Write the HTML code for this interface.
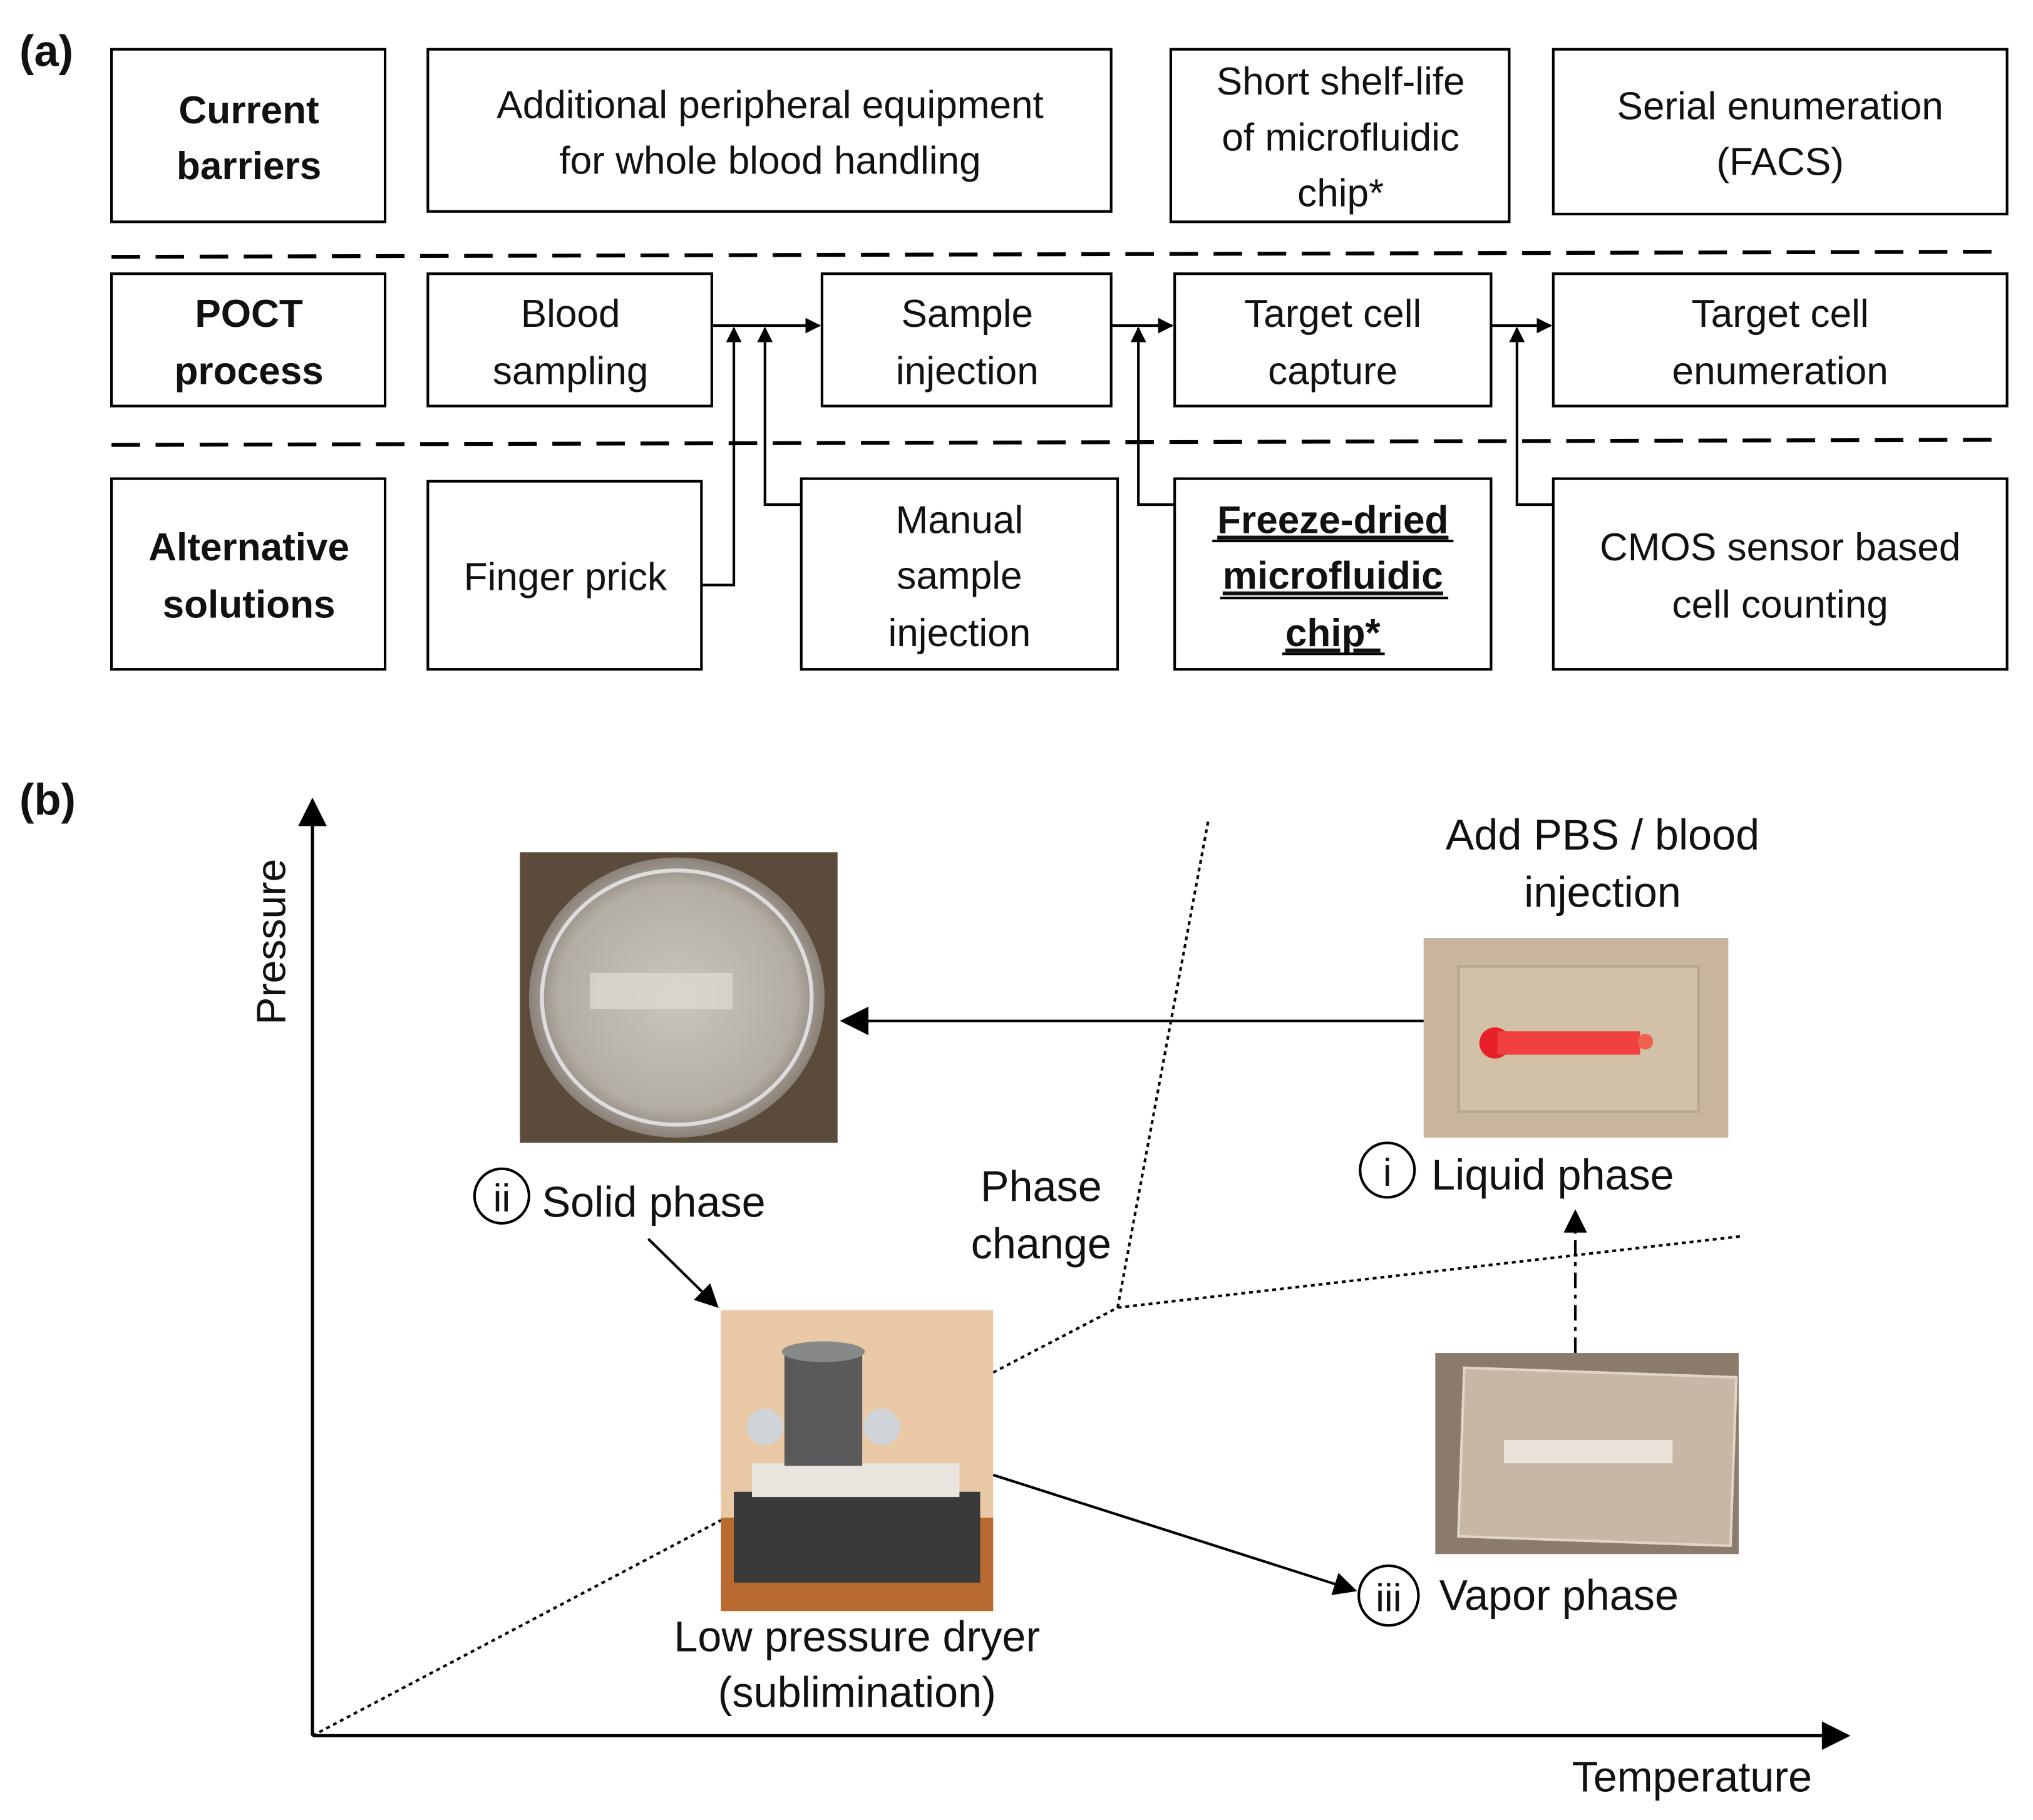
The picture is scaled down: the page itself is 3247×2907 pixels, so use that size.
<!DOCTYPE html>
<html><head><meta charset="utf-8"><style>
html,body{margin:0;padding:0;background:#fff;}
svg{display:block;}
text{font-family:"Liberation Sans",sans-serif;fill:#111;}
</style></head><body>
<svg width="3247" height="2907" viewBox="0 0 1568 1403" preserveAspectRatio="none" xmlns="http://www.w3.org/2000/svg">
<defs>
<marker id="ah" viewBox="0 0 10 10" refX="9" refY="5" markerWidth="12" markerHeight="12" orient="auto-start-reverse" markerUnits="userSpaceOnUse"><path d="M0,0 L10,5 L0,10 z" fill="#000"/></marker>
<marker id="ahb" viewBox="0 0 10 10" refX="9" refY="5" markerWidth="26" markerHeight="22" orient="auto" markerUnits="userSpaceOnUse"><path d="M0,0 L10,5 L0,10 z" fill="#000"/></marker>
<marker id="ahs" viewBox="0 0 10 10" refX="9" refY="5" markerWidth="18" markerHeight="18" orient="auto" markerUnits="userSpaceOnUse"><path d="M0,0 L10,5 L0,10 z" fill="#000"/></marker>
<radialGradient id="petri" cx="50%" cy="50%" r="50%"><stop offset="0" stop-color="#c9c6c0"/><stop offset="0.8" stop-color="#b3ada4"/><stop offset="1" stop-color="#8a8278"/></radialGradient>
</defs>
<text x="15" y="51" font-size="34" font-weight="bold">(a)</text>
<g fill="none" stroke="#000" stroke-width="2">
<rect x="86" y="38" width="211" height="133"/>
<rect x="330" y="38" width="527" height="125"/>
<rect x="903" y="38" width="261" height="133"/>
<rect x="1198" y="38" width="350" height="127"/>
<rect x="86" y="211" width="211" height="102"/>
<rect x="330" y="211" width="219" height="102"/>
<rect x="634" y="211" width="223" height="102"/>
<rect x="906" y="211" width="244" height="102"/>
<rect x="1198" y="211" width="350" height="102"/>
<rect x="86" y="369" width="211" height="147"/>
<rect x="330" y="371" width="211" height="145"/>
<rect x="618" y="369" width="244" height="147"/>
<rect x="906" y="369" width="244" height="147"/>
<rect x="1198" y="369" width="350" height="147"/>
</g>
<g stroke="#000" stroke-width="3" stroke-dasharray="22,12">
<line x1="86" y1="198" x2="1548" y2="194"/>
<line x1="86" y1="343" x2="1548" y2="339"/>
</g>
<g fill="none" stroke="#000" stroke-width="2">
<line x1="549" y1="251" x2="632" y2="251" marker-end="url(#ah)"/>
<line x1="857" y1="251" x2="904" y2="251" marker-end="url(#ah)"/>
<line x1="1150" y1="251" x2="1196" y2="251" marker-end="url(#ah)"/>
<polyline points="541,451 566,451 566,253" marker-end="url(#ah)"/>
<polyline points="618,389 590,389 590,253" marker-end="url(#ah)"/>
<polyline points="906,389 878,389 878,253" marker-end="url(#ah)"/>
<polyline points="1198,389 1170,389 1170,253" marker-end="url(#ah)"/>
</g>
<g font-size="30" text-anchor="middle">
<text x="192" y="95" font-weight="bold">Current</text><text x="192" y="138" font-weight="bold">barriers</text>
<text x="594" y="91">Additional peripheral equipment</text><text x="594" y="134">for  whole blood handling</text>
<text x="1034" y="73">Short shelf-life</text><text x="1034" y="116">of microfluidic</text><text x="1034" y="159">chip*</text>
<text x="1373" y="92">Serial enumeration</text><text x="1373" y="135">(FACS)</text>
<text x="192" y="252" font-weight="bold">POCT</text><text x="192" y="296" font-weight="bold">process</text>
<text x="440" y="252">Blood</text><text x="440" y="296">sampling</text>
<text x="746" y="252">Sample</text><text x="746" y="296">injection</text>
<text x="1028" y="252">Target cell</text><text x="1028" y="296">capture</text>
<text x="1373" y="252">Target cell</text><text x="1373" y="296">enumeration</text>
<text x="192" y="432" font-weight="bold">Alternative</text><text x="192" y="476" font-weight="bold">solutions</text>
<text x="436" y="455">Finger prick</text>
<text x="740" y="411">Manual</text><text x="740" y="454">sample</text><text x="740" y="498">injection</text>
<text x="1028" y="411" font-weight="bold" text-decoration="underline">Freeze-dried</text><text x="1028" y="454" font-weight="bold" text-decoration="underline">microfluidic</text><text x="1028" y="498" font-weight="bold" text-decoration="underline">chip*</text>
<text x="1373" y="432">CMOS sensor based</text><text x="1373" y="476">cell counting</text>
</g>
<g stroke="#000" stroke-width="2">
<line x1="935" y1="417" x2="1121" y2="417"/><line x1="941" y1="461" x2="1117" y2="461"/><line x1="989" y1="504" x2="1068" y2="504"/>
</g>
<text x="15" y="628" font-size="34" font-weight="bold">(b)</text>
<g stroke="#000" stroke-width="2.5" fill="none">
<line x1="241" y1="1338" x2="241" y2="617" marker-end="url(#ahb)"/>
<line x1="241" y1="1338" x2="1425" y2="1338" marker-end="url(#ahb)"/>
</g>
<text transform="translate(220,726) rotate(-90)" font-size="32" text-anchor="middle">Pressure</text>
<text x="1305" y="1381" font-size="33" text-anchor="middle">Temperature</text>
<g stroke="#000" stroke-width="2" stroke-dasharray="3,3" fill="none">
<line x1="241" y1="1338" x2="556" y2="1172"/>
<line x1="766" y1="1058" x2="862" y2="1008"/>
<line x1="862" y1="1008" x2="932" y2="632"/>
<line x1="862" y1="1008" x2="1343" y2="953"/>
</g>
<rect x="401" y="657" width="245" height="224" fill="#5b4b3b"/>
<ellipse cx="522" cy="769" rx="114" ry="108" fill="url(#petri)"/>
<ellipse cx="522" cy="769" rx="104" ry="98" fill="none" stroke="#ddd" stroke-width="3"/>
<rect x="455" y="750" width="110" height="28" fill="#ddd8cf" opacity="0.8"/>
<rect x="1098" y="723" width="235" height="154" fill="#c9b59b"/>
<rect x="1125" y="745" width="185" height="112" fill="#d3c1a7" stroke="#b8a68e" stroke-width="2"/>
<circle cx="1153" cy="804" r="12" fill="#e8202a"/>
<rect x="1155" y="795" width="110" height="18" fill="#f04040"/>
<circle cx="1269" cy="803" r="6" fill="#f06050"/>
<rect x="556" y="1010" width="210" height="232" fill="#e9c9a6"/>
<rect x="556" y="1170" width="210" height="72" fill="#b86a30"/>
<rect x="566" y="1150" width="190" height="70" fill="#3a3a3a"/>
<rect x="580" y="1128" width="160" height="26" fill="#e8e4de"/>
<rect x="605" y="1040" width="60" height="90" fill="#5a5a5a"/>
<ellipse cx="635" cy="1042" rx="32" ry="8" fill="#888"/>
<circle cx="590" cy="1100" r="14" fill="#cfd4d8"/><circle cx="680" cy="1100" r="14" fill="#cfd4d8"/>
<rect x="1107" y="1043" width="234" height="155" fill="#8b7b6a"/>
<rect x="1127" y="1058" width="210" height="130" fill="#c7b8a6" stroke="#e0d6c8" stroke-width="2" transform="rotate(2 1232 1123)"/>
<rect x="1160" y="1110" width="130" height="18" fill="#e8e2d8"/>
<line x1="1098" y1="787" x2="650" y2="787" stroke="#000" stroke-width="2" marker-end="url(#ahb)"/>
<line x1="500" y1="955" x2="553" y2="1007" stroke="#000" stroke-width="2" marker-end="url(#ahs)"/>
<line x1="766" y1="1137" x2="1045" y2="1226" stroke="#000" stroke-width="2" marker-end="url(#ahs)"/>
<line x1="1215" y1="1043" x2="1215" y2="934" stroke="#000" stroke-width="2" stroke-dasharray="12,5,3,5" marker-end="url(#ahs)"/>
<g font-size="33">
<text x="1236" y="655" text-anchor="middle">Add PBS / blood</text>
<text x="1236" y="699" text-anchor="middle">injection</text>
<circle cx="387" cy="922" r="21" fill="none" stroke="#000" stroke-width="2"/>
<text x="387" y="934" text-anchor="middle" font-size="30">ii</text>
<text x="418" y="938">Solid phase</text>
<circle cx="1070" cy="902" r="21" fill="none" stroke="#000" stroke-width="2"/>
<text x="1070" y="914" text-anchor="middle" font-size="30">i</text>
<text x="1104" y="917">Liquid phase</text>
<circle cx="1071" cy="1230" r="23" fill="none" stroke="#000" stroke-width="2"/>
<text x="1071" y="1242" text-anchor="middle" font-size="30">iii</text>
<text x="1110" y="1241">Vapor phase</text>
<text x="803" y="926" text-anchor="middle">Phase</text>
<text x="803" y="970" text-anchor="middle">change</text>
<text x="661" y="1273" text-anchor="middle">Low pressure dryer</text>
<text x="661" y="1316" text-anchor="middle">(sublimination)</text>
</g>
</svg>
</body></html>
